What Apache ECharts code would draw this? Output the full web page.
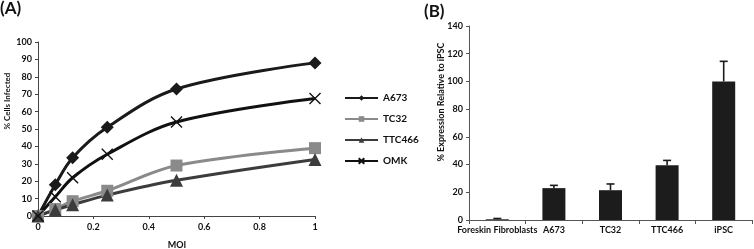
<!DOCTYPE html>
<html>
<head>
<meta charset="utf-8">
<script src="https://cdn.jsdelivr.net/npm/echarts@6/dist/echarts.min.js"></script>
<style>
  html, body { margin: 0; padding: 0; background: #fff; }
  #chart { width: 754px; height: 249px; }
</style>
</head>
<body>
<div id="chart"></div>
<script>
// panel A: infection vs MOI
const moi = [0, 0.0625, 0.125, 0.25, 0.5, 1];
const a673 = [0, 18, 33.5, 51, 73, 88];
const tc32 = [0, 4, 8.5, 14.5, 29, 39];
const ttc466 = [0, 3.5, 6.5, 12, 20.5, 32.5];
const omk = [0, 11, 22, 35.5, 54, 67.5];

// panel B: expression relative to iPSC
const cells = ['Foreskin Fibroblasts', 'A673', 'TC32', 'TTC466', 'iPSC'];
const expr = [0.5, 23, 21.5, 39.5, 100];
const exprErr = [0.6, 2, 4.5, 3.5, 14.5];

const font = 'Lato';
const pair = (ys) => moi.map((x, i) => [x, ys[i]]);
const crossPath = 'path://M0,0L10,10M10,0L0,10';

const chart = echarts.init(document.getElementById('chart'));

const lineSeries = (name, ys, color, symbol, size) => ({
  name: name,
  type: 'line',
  xAxisIndex: 0,
  yAxisIndex: 0,
  data: pair(ys),
  smooth: 0.35,
  symbol: symbol,
  symbolSize: size,
  lineStyle: { color: color, width: 3 },
  itemStyle: { color: color },
  z: 3
});

const omkSeries = lineSeries('OMK', omk, '#111', crossPath, 11);
omkSeries.itemStyle = { color: 'rgba(0,0,0,0)', borderColor: '#111', borderWidth: 1.4 };

const tick = { fontSize: 9, color: '#111', fontWeight: 'bold', fontFamily: font };

// bold axis titles as plain text elements
const axisTitle = (text, x, y, size, rotate) => ({
  type: 'text', x: x, y: y, rotation: rotate ? Math.PI / 2 : 0,
  style: { text: text, font: 'bold ' + size + 'px ' + font, fill: '#111', align: 'center', verticalAlign: 'middle' }
});

const option = {
  animation: false,
  textStyle: { fontFamily: font },
  graphic: [
    { type: 'text', left: 0, top: 0, style: { text: '(A)', font: 'bold 17px ' + font, fill: '#111' } },
    { type: 'text', left: 424, top: 3, style: { text: '(B)', font: 'bold 17px ' + font, fill: '#111' } },
    axisTitle('% Cells Infected', 7, 101, 8, true),
    axisTitle('MOI', 177, 245, 9, false),
    axisTitle('% Expression Relative to iPSC', 441, 102, 9, true)
  ],
  legend: {
    orient: 'vertical',
    left: 339,
    top: 88,
    itemWidth: 33,
    itemHeight: 7,
    itemGap: 11,
    textStyle: { fontSize: 10, fontWeight: 'bold', color: '#111', fontFamily: font },
    data: ['A673', 'TC32', 'TTC466', 'OMK']
  },
  grid: [
    { left: 38, top: 42, right: 439, bottom: 33 },
    { left: 469, top: 26, right: 2, bottom: 29 }
  ],
  xAxis: [
    {
      gridIndex: 0, type: 'value', min: 0, max: 1, interval: 0.2,
      axisLine: { lineStyle: { color: '#444' } },
      axisTick: { show: true, length: 3, lineStyle: { color: '#444' } },
      axisLabel: Object.assign({ margin: 7 }, tick),
      splitLine: { show: false }
    },
    {
      gridIndex: 1, type: 'category', data: cells,
      axisLine: { lineStyle: { color: '#555' } },
      axisTick: { show: true, length: 4, lineStyle: { color: '#555' } },
      axisLabel: Object.assign({ margin: 6, interval: 0 }, tick)
    }
  ],
  yAxis: [
    {
      gridIndex: 0, type: 'value', min: 0, max: 100, interval: 10,
      axisLine: { show: true, lineStyle: { color: '#444' } },
      axisTick: { show: true, length: 3, lineStyle: { color: '#444' } },
      axisLabel: Object.assign({ margin: 6 }, tick),
      splitLine: { show: false }
    },
    {
      gridIndex: 1, type: 'value', min: 0, max: 140, interval: 20,
      axisLine: { show: true, lineStyle: { color: '#555' } },
      axisTick: { show: true, length: 3, lineStyle: { color: '#555' } },
      axisLabel: Object.assign({ margin: 6 }, tick),
      splitLine: { show: false }
    }
  ],
  series: [
    lineSeries('A673', a673, '#1a1a1a', 'diamond', 13),
    lineSeries('TC32', tc32, '#8a8a8a', 'rect', 12),
    lineSeries('TTC466', ttc466, '#3c3c3c', 'triangle', 13),
    omkSeries,
    {
      type: 'bar',
      xAxisIndex: 1,
      yAxisIndex: 1,
      data: expr,
      barWidth: 23,
      itemStyle: { color: '#1c1c1c' }
    },
    {
      type: 'custom',
      xAxisIndex: 1,
      yAxisIndex: 1,
      data: expr.map((v, i) => [i, v, v + exprErr[i]]),
      renderItem: function (params, api) {
        const base = api.coord([api.value(0), api.value(1)]);
        const top = api.coord([api.value(0), api.value(2)]);
        const x = base[0];
        return {
          type: 'group',
          children: [
            { type: 'line', shape: { x1: x, y1: base[1], x2: x, y2: top[1] }, style: { stroke: '#1c1c1c', lineWidth: 1.6 } },
            { type: 'line', shape: { x1: x - 4, y1: top[1], x2: x + 4, y2: top[1] }, style: { stroke: '#1c1c1c', lineWidth: 1.6 } }
          ]
        };
      },
      z: 5
    }
  ]
};

chart.setOption(option);
</script>
</body>
</html>
